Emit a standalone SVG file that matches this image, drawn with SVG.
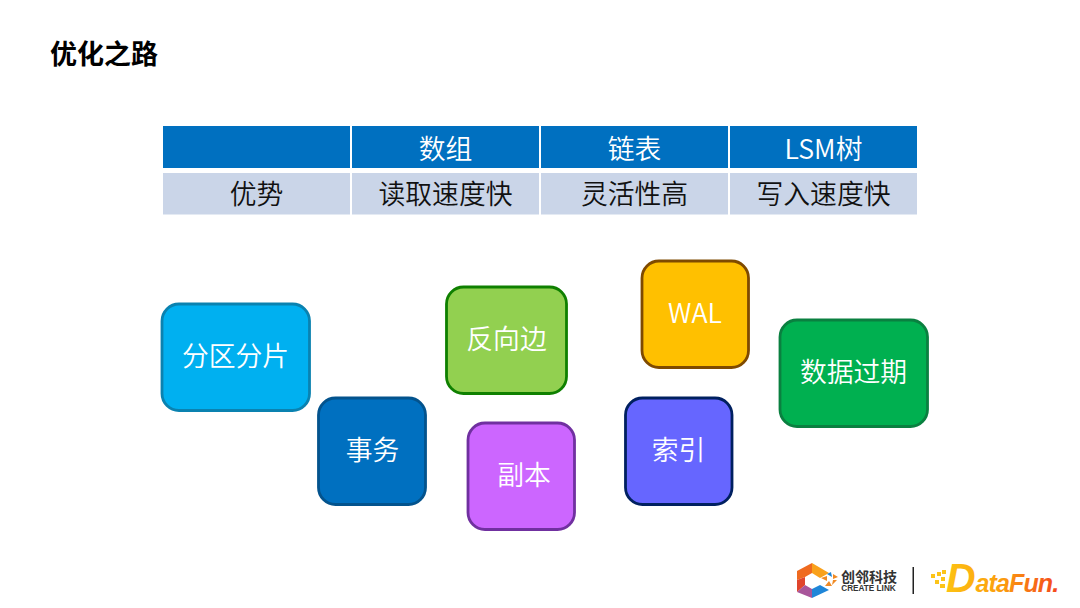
<svg xmlns="http://www.w3.org/2000/svg" width="1080" height="608" viewBox="0 0 1080 608">
<style>
text{font-family:"Noto Sans CJK SC","Noto Sans",sans-serif;text-anchor:middle}
.h{fill:#0070c0}.r{fill:#cad5e8}
.ht{font-size:26.8px;fill:#fff;font-weight:350}.rt{font-size:26.8px;fill:#111;font-weight:350}
.n{stroke-width:2.800}.nt{font-size:26.800px;fill:#fff;font-weight:350}
</style>
<defs>
<linearGradient id="df" gradientUnits="userSpaceOnUse" x1="945" y1="0" x2="1058" y2="0"><stop offset="0" stop-color="#fdc313"/><stop offset="0.5" stop-color="#fb9d0e"/><stop offset="1" stop-color="#f4481c"/></linearGradient>
</defs>
<rect width="1080" height="608" fill="#fff"/>
<text x="104" y="64" style="font-size:27px;font-weight:700;fill:#000">优化之路</text>
<g id="table">
<rect class="h" x="163" y="126" width="187" height="42"/><rect class="h" x="352" y="126" width="187" height="42"/><rect class="h" x="541" y="126" width="187" height="42"/><rect class="h" x="730" y="126" width="187" height="42"/>
<rect class="r" x="163" y="173" width="187" height="41.500"/><rect class="r" x="352" y="173" width="187" height="41.500"/><rect class="r" x="541" y="173" width="187" height="41.500"/><rect class="r" x="730" y="173" width="187" height="41.500"/>
<text class="ht" x="445.500" y="159">数组</text><text class="ht" x="634.500" y="159">链表</text><text class="ht" x="823.500" y="159">LSM树</text>
<text class="rt" x="256.500" y="204">优势</text><text class="rt" x="445.500" y="204">读取速度快</text><text class="rt" x="634.500" y="204">灵活性高</text><text class="rt" x="823.500" y="204">写入速度快</text>
</g>
<g id="n1"><rect class="n" x="162" y="304" width="147.500" height="106.500" rx="17" fill="#00b0f0" stroke="#0a82b0"/><text class="nt" x="235.500" y="366">分区分片</text></g>
<g id="n2"><rect class="n" x="318.500" y="398" width="107" height="106.500" rx="17" fill="#0070c0" stroke="#03538d"/><text class="nt" x="372.500" y="460">事务</text></g>
<g id="n3"><rect class="n" x="446.500" y="287" width="120" height="106.500" rx="17" fill="#92d050" stroke="#0f8000"/><text class="nt" x="506.500" y="349">反向边</text></g>
<g id="n4"><rect class="n" x="468" y="423" width="106.500" height="106.500" rx="17" fill="#cc66ff" stroke="#7030a0"/><text class="nt" x="524" y="485">副本</text></g>
<g id="n5"><rect class="n" x="642" y="261" width="106.500" height="106.500" rx="17" fill="#ffc000" stroke="#7f4a00"/><text class="nt" x="695" y="323">WAL</text></g>
<g id="n6"><rect class="n" x="625.500" y="398" width="106.500" height="106.500" rx="17" fill="#6666ff" stroke="#002060"/><text class="nt" x="678.500" y="460">索引</text></g>
<g id="n7"><rect class="n" x="780" y="320" width="147.500" height="106.500" rx="17" fill="#00b050" stroke="#0a8040"/><text class="nt" x="853.500" y="382">数据过期</text></g>
<g id="logo">
<path d="M812 563 L797 571 V580 L805 577 L812 573Z" fill="#ef6a1f"/>
<path d="M812 563 L829 573 L820 578 L812 573Z" fill="#f9a11b"/>
<path d="M797 580 L805 577 V585 L797 592Z" fill="#e0452c"/>
<path d="M797 592 L805 585 L812 589 V598Z" fill="#a8559a"/>
<path d="M812 589 L820 585 L829 590 L812 598Z" fill="#1f86d8"/>
<path d="M821 578l6-2v5zM833 574l5 3-5 2zM825 586l4-5 3 5zM832 585l1-5 4 0z" fill="#f08a24"/>
<path d="M827 574l4-2 1 5z" fill="#1f86d8"/>
<text x="869" y="582" style="font-size:14px;font-weight:700;fill:#333">创邻科技</text>
<text x="868.500" y="591" style="font-size:8.200px;font-weight:700;fill:#333;font-family:'Liberation Sans',sans-serif">CREATE LINK</text>
<rect x="912.500" y="567" width="1.500" height="27" fill="#222"/>
<path d="M931 574h4v4h-4zM937 572h4v4h-4zM942 570h4v4h-4zM935 580h4v4h-4zM941 577h4v4h-4zM940 584h5v4h-5z" fill="#fcc419"/>
<text x="946" y="592" style="text-anchor:start;font-weight:700;font-style:italic;fill:url(#df);font-family:'Liberation Sans',sans-serif"><tspan style="font-size:41px">D</tspan><tspan style="font-size:25px;letter-spacing:-.9px">ataFun.</tspan></text>
</g>
</svg>
